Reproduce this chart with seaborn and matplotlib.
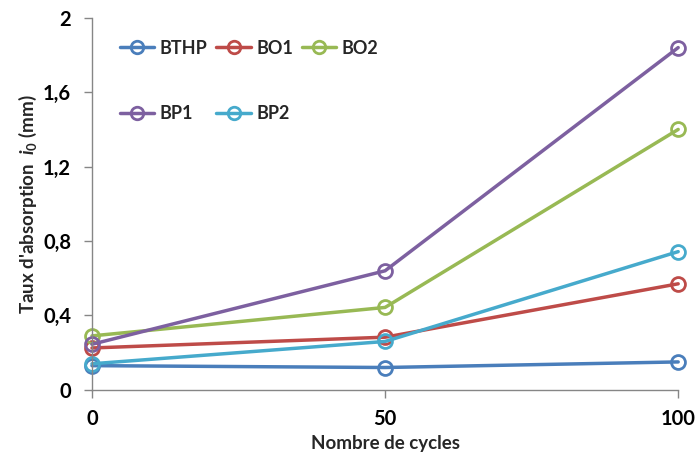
import matplotlib
matplotlib.use("Agg")
import matplotlib.pyplot as plt
import seaborn as sns
import pandas as pd
from matplotlib.ticker import FuncFormatter
from matplotlib.lines import Line2D

cycles = [0, 50, 100]
series_names = ["BTHP", "BO1", "BO2", "BP1", "BP2"]
bthp = [0.13, 0.12, 0.15]
bo1 = [0.225, 0.283, 0.57]
bo2 = [0.29, 0.443, 1.40]
bp1 = [0.245, 0.64, 1.84]
bp2 = [0.14, 0.26, 0.743]
colors = ["#4A7EBB", "#BE4B48", "#98B954", "#7D60A0", "#46AACC"]
yticks = [0, 0.4, 0.8, 1.2, 1.6, 2.0]

rows = []
for name, vals in zip(series_names, [bthp, bo1, bo2, bp1, bp2]):
    for c, v in zip(cycles, vals):
        rows.append({"cycle": c, "val": v, "serie": name})
df = pd.DataFrame(rows)

sns.set_style("ticks")
plt.rcParams["font.family"] = ["Lato", "DejaVu Sans"]
plt.rcParams["mathtext.fontset"] = "custom"
plt.rcParams["mathtext.it"] = "Lato:italic:bold"
plt.rcParams["mathtext.rm"] = "Lato:bold"

fig = plt.figure(figsize=(6.97, 4.57), dpi=100)
ax = fig.add_axes([0.132, 0.147, 0.841, 0.814])

sns.lineplot(data=df, x="cycle", y="val", hue="serie", hue_order=series_names,
             palette=colors, marker="o", markersize=10, markerfacecolor="none",
             markeredgewidth=2, linewidth=2.5, ax=ax, legend=False)
for line, col in zip(ax.lines, colors):
    line.set_markeredgecolor(col)
    line.set_clip_on(False)

ax.set_xlim(0, 100)
ax.set_ylim(0, 2)
ax.set_xticks(cycles)
ax.set_yticks(yticks)
ax.yaxis.set_major_formatter(FuncFormatter(lambda v, p: ("%g" % round(v, 1)).replace(".", ",")))
for s in ["top", "right"]:
    ax.spines[s].set_visible(False)
for s in ["left", "bottom"]:
    ax.spines[s].set_color("#868686")
    ax.spines[s].set_linewidth(1)
ax.tick_params(colors="#868686", length=6, width=1, labelcolor="black", labelsize=14.5)
for lab in ax.get_xticklabels() + ax.get_yticklabels():
    lab.set_fontweight("bold")
ax.tick_params(axis="y", pad=9)
ax.tick_params(axis="x", pad=8)

ax.set_xlabel("Nombre de cycles", fontsize=13.5, fontweight="bold")
ax.set_ylabel(r"Taux d'absorption  $i_0$ (mm)", fontsize=13.5, fontweight="bold", labelpad=3)

hmap = {n: Line2D([], [], color=c, marker="o", markersize=9, markerfacecolor="none",
                  markeredgewidth=2, linewidth=2.5) for n, c in zip(series_names, colors)}
order = ["BTHP", "BP1", "BO1", "BP2", "BO2"]
leg = ax.legend([hmap[o] for o in order], order, ncol=3, frameon=False,
                loc="upper left", bbox_to_anchor=(0.02, 0.985),
                labelspacing=2.7, columnspacing=0.5, handlelength=1.9,
                handletextpad=0.3, prop={"size": 13, "weight": "bold"})
fig.savefig("out.png", dpi=100)
